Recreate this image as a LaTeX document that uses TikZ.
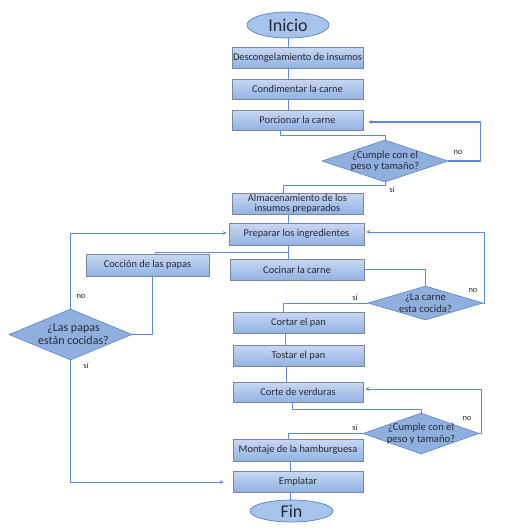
\documentclass[tikz,border=0pt]{standalone}
\usepackage{fontspec}
\setmainfont{Carlito}
\usetikzlibrary{shapes.geometric,arrows.meta,backgrounds,shadows}
\definecolor{lineblue}{RGB}{95,140,208}
\definecolor{boxtop}{RGB}{200,216,242}
\definecolor{boxbot}{RGB}{145,178,228}
\definecolor{boxborder}{RGB}{125,135,155}
\definecolor{dfill}{RGB}{143,175,222}
\definecolor{dborder}{RGB}{90,132,200}
\definecolor{efill}{RGB}{165,195,235}
\definecolor{txt}{RGB}{40,42,50}
\tikzset{
  stepbox/.style={rectangle, draw=boxborder, line width=0.6pt, top color=boxtop, bottom color=boxbot,
    inner sep=0pt, font=\fontsize{10.4}{10.8}\selectfont, text=txt, align=center,
    drop shadow={opacity=0.25, shadow xshift=1pt, shadow yshift=-1pt}},
  decision/.style={diamond, draw=dborder, line width=0.6pt, fill=dfill, inner sep=0pt},
  dtext/.style={font=\fontsize{10.6}{11.5}\selectfont, text=txt, align=center},
  term/.style={ellipse, draw=dborder, line width=0.7pt, fill=efill, inner sep=0pt,
    font=\fontsize{18}{18}\selectfont, text=txt},
  conn/.style={draw=lineblue, line width=0.9pt},
  arr/.style={conn, -{Stealth[length=4pt,width=4pt]}},
  lbl/.style={font=\fontsize{8.5}{8.5}\selectfont, text=txt}
}
\begin{document}
\begin{tikzpicture}[x=1pt,y=-1pt]
\useasboundingbox (0,0) rectangle (521,531);
\node[term, minimum width=82pt, minimum height=26pt] (inicio) at (288,25) {Inicio};
\node[stepbox, minimum width=131pt, minimum height=21pt] (desc) at (297.5,57.5) {Descongelamiento de insumos};
\node[stepbox, minimum width=131pt, minimum height=20pt] (cond) at (297.5,89) {Condimentar la carne};
\node[stepbox, minimum width=131pt, minimum height=20pt] (porc) at (297.5,120) {Porcionar la carne};
\node[decision, minimum width=126pt, minimum height=42pt,
  label={[dtext]center:¿Cumple con el\\peso y tamaño?}] (d1) at (385,161) {};
\node[stepbox, minimum width=131pt, minimum height=21pt, font=\fontsize{10.4}{10}\selectfont] (alm) at (297.5,203.5) {Almacenamiento de los\\insumos preparados};
\node[stepbox, minimum width=135pt, minimum height=22pt] (prep) at (296.5,234) {Preparar los ingredientes};
\node[stepbox, minimum width=123pt, minimum height=22pt] (cocc) at (147.5,265) {Cocción de las papas};
\node[stepbox, minimum width=134pt, minimum height=21pt] (cocin) at (297,269.5) {Cocinar la carne};
\node[decision, minimum width=115pt, minimum height=34pt,
  label={[dtext]center:¿La carne\\esta cocida?}] (d2) at (425.5,303) {};
\node[decision, minimum width=123pt, minimum height=51pt,
  label={[dtext, font=\fontsize{12}{13}\selectfont, xshift=3pt]center:¿Las papas\\están cocidas?}] (d3) at (70.5,334.5) {};
\node[stepbox, minimum width=131pt, minimum height=21pt] (cortar) at (298.5,322.5) {Cortar el pan};
\node[stepbox, minimum width=131pt, minimum height=21pt] (tostar) at (298.5,355.5) {Tostar el pan};
\node[stepbox, minimum width=130pt, minimum height=20pt] (corte) at (298,392) {Corte de verduras};
\node[decision, minimum width=116pt, minimum height=41pt,
  label={[dtext]center:¿Cumple con el\\peso y tamaño?}] (d4) at (421,433.5) {};
\node[stepbox, minimum width=130pt, minimum height=22pt] (mont) at (298,450) {Montaje de la hamburguesa};
\node[stepbox, minimum width=130pt, minimum height=21pt] (empl) at (298,481.5) {Emplatar};
\node[term, minimum width=83pt, minimum height=22pt] (fin) at (291.5,511) {Fin};

\begin{scope}[on background layer]
\draw[conn] (inicio.south) -- (inicio.south |- desc.north);
\draw[conn] ([xshift=-9.5pt]desc.south) -- ([xshift=-9.5pt]desc.south |- cond.north);
\draw[conn] ([xshift=-9.5pt]cond.south) -- ([xshift=-9.5pt]cond.south |- porc.north);
\draw[conn] ([xshift=-17.5pt]porc.south) -- ++(0,5) -| (d1.north);
\draw[arr, line width=1.3pt] (d1.east) -- ++(32,0) |- ([xshift=5pt,yshift=-2pt]porc.east);
\draw[conn] (d1.south) -- ++(0,3) -| ([xshift=-14.5pt]alm.north);
\draw[conn] ([xshift=-9.5pt]alm.south) -- ([xshift=-9.5pt]alm.south |- prep.north);
\draw[conn] ([xshift=-8.5pt]prep.south) -- ([xshift=-8.5pt]prep.south |- cocin.north);
\draw[conn] ([xshift=-8.5pt]prep.south) -- ++(0,7) -| ([xshift=7.5pt]cocc.north);
\draw[conn] ([xshift=4.5pt]cocc.south) |- (d3.east);
\draw[arr] (d3.north) |- ([xshift=-2pt,yshift=1pt]prep.west);
\draw[arr] (d3.south) |- ([xshift=-9pt,yshift=-0.5pt]empl.west);
\draw[conn] (cocin.east) -| (d2.north);
\draw[arr] (d2.east) -- ++(1,0) |- ([xshift=2pt,yshift=2pt]prep.east);
\draw[conn] (d2.west) -| ([xshift=-15.5pt]cortar.north);
\draw[conn] ([xshift=-13.5pt]cortar.south) -- ([xshift=-13.5pt]cortar.south |- tostar.north);
\draw[conn] ([xshift=-12.5pt]tostar.south) -- ([xshift=-12.5pt]tostar.south |- corte.north);
\draw[conn] ([xshift=-6pt]corte.south) -- ++(0,7) -| (d4.north);
\draw[arr] (d4.east) -- ++(2,0) |- ([xshift=2pt,yshift=3pt]corte.east);
\draw[conn] (d4.west) -| ([xshift=-10pt]mont.north);
\draw[conn] ([xshift=-8pt]mont.south) -- ([xshift=-8pt]mont.south |- empl.north);
\draw[conn] ([xshift=-8pt]empl.south) -- ([xshift=-8pt]empl.south |- fin.north);
\end{scope}

\node[lbl] (no1) at (458,152) {no};
\node[lbl] (si1) at (392,190) {sí};
\node[lbl] (no3) at (81,296) {no};
\node[lbl] (si3) at (86,366) {sí};
\node[lbl] (no2) at (473,290) {no};
\node[lbl] (si2) at (355,298) {sí};
\node[lbl] (no4) at (467,418) {no};
\node[lbl] (si4) at (355,428) {sí};
\end{tikzpicture}
\end{document}
